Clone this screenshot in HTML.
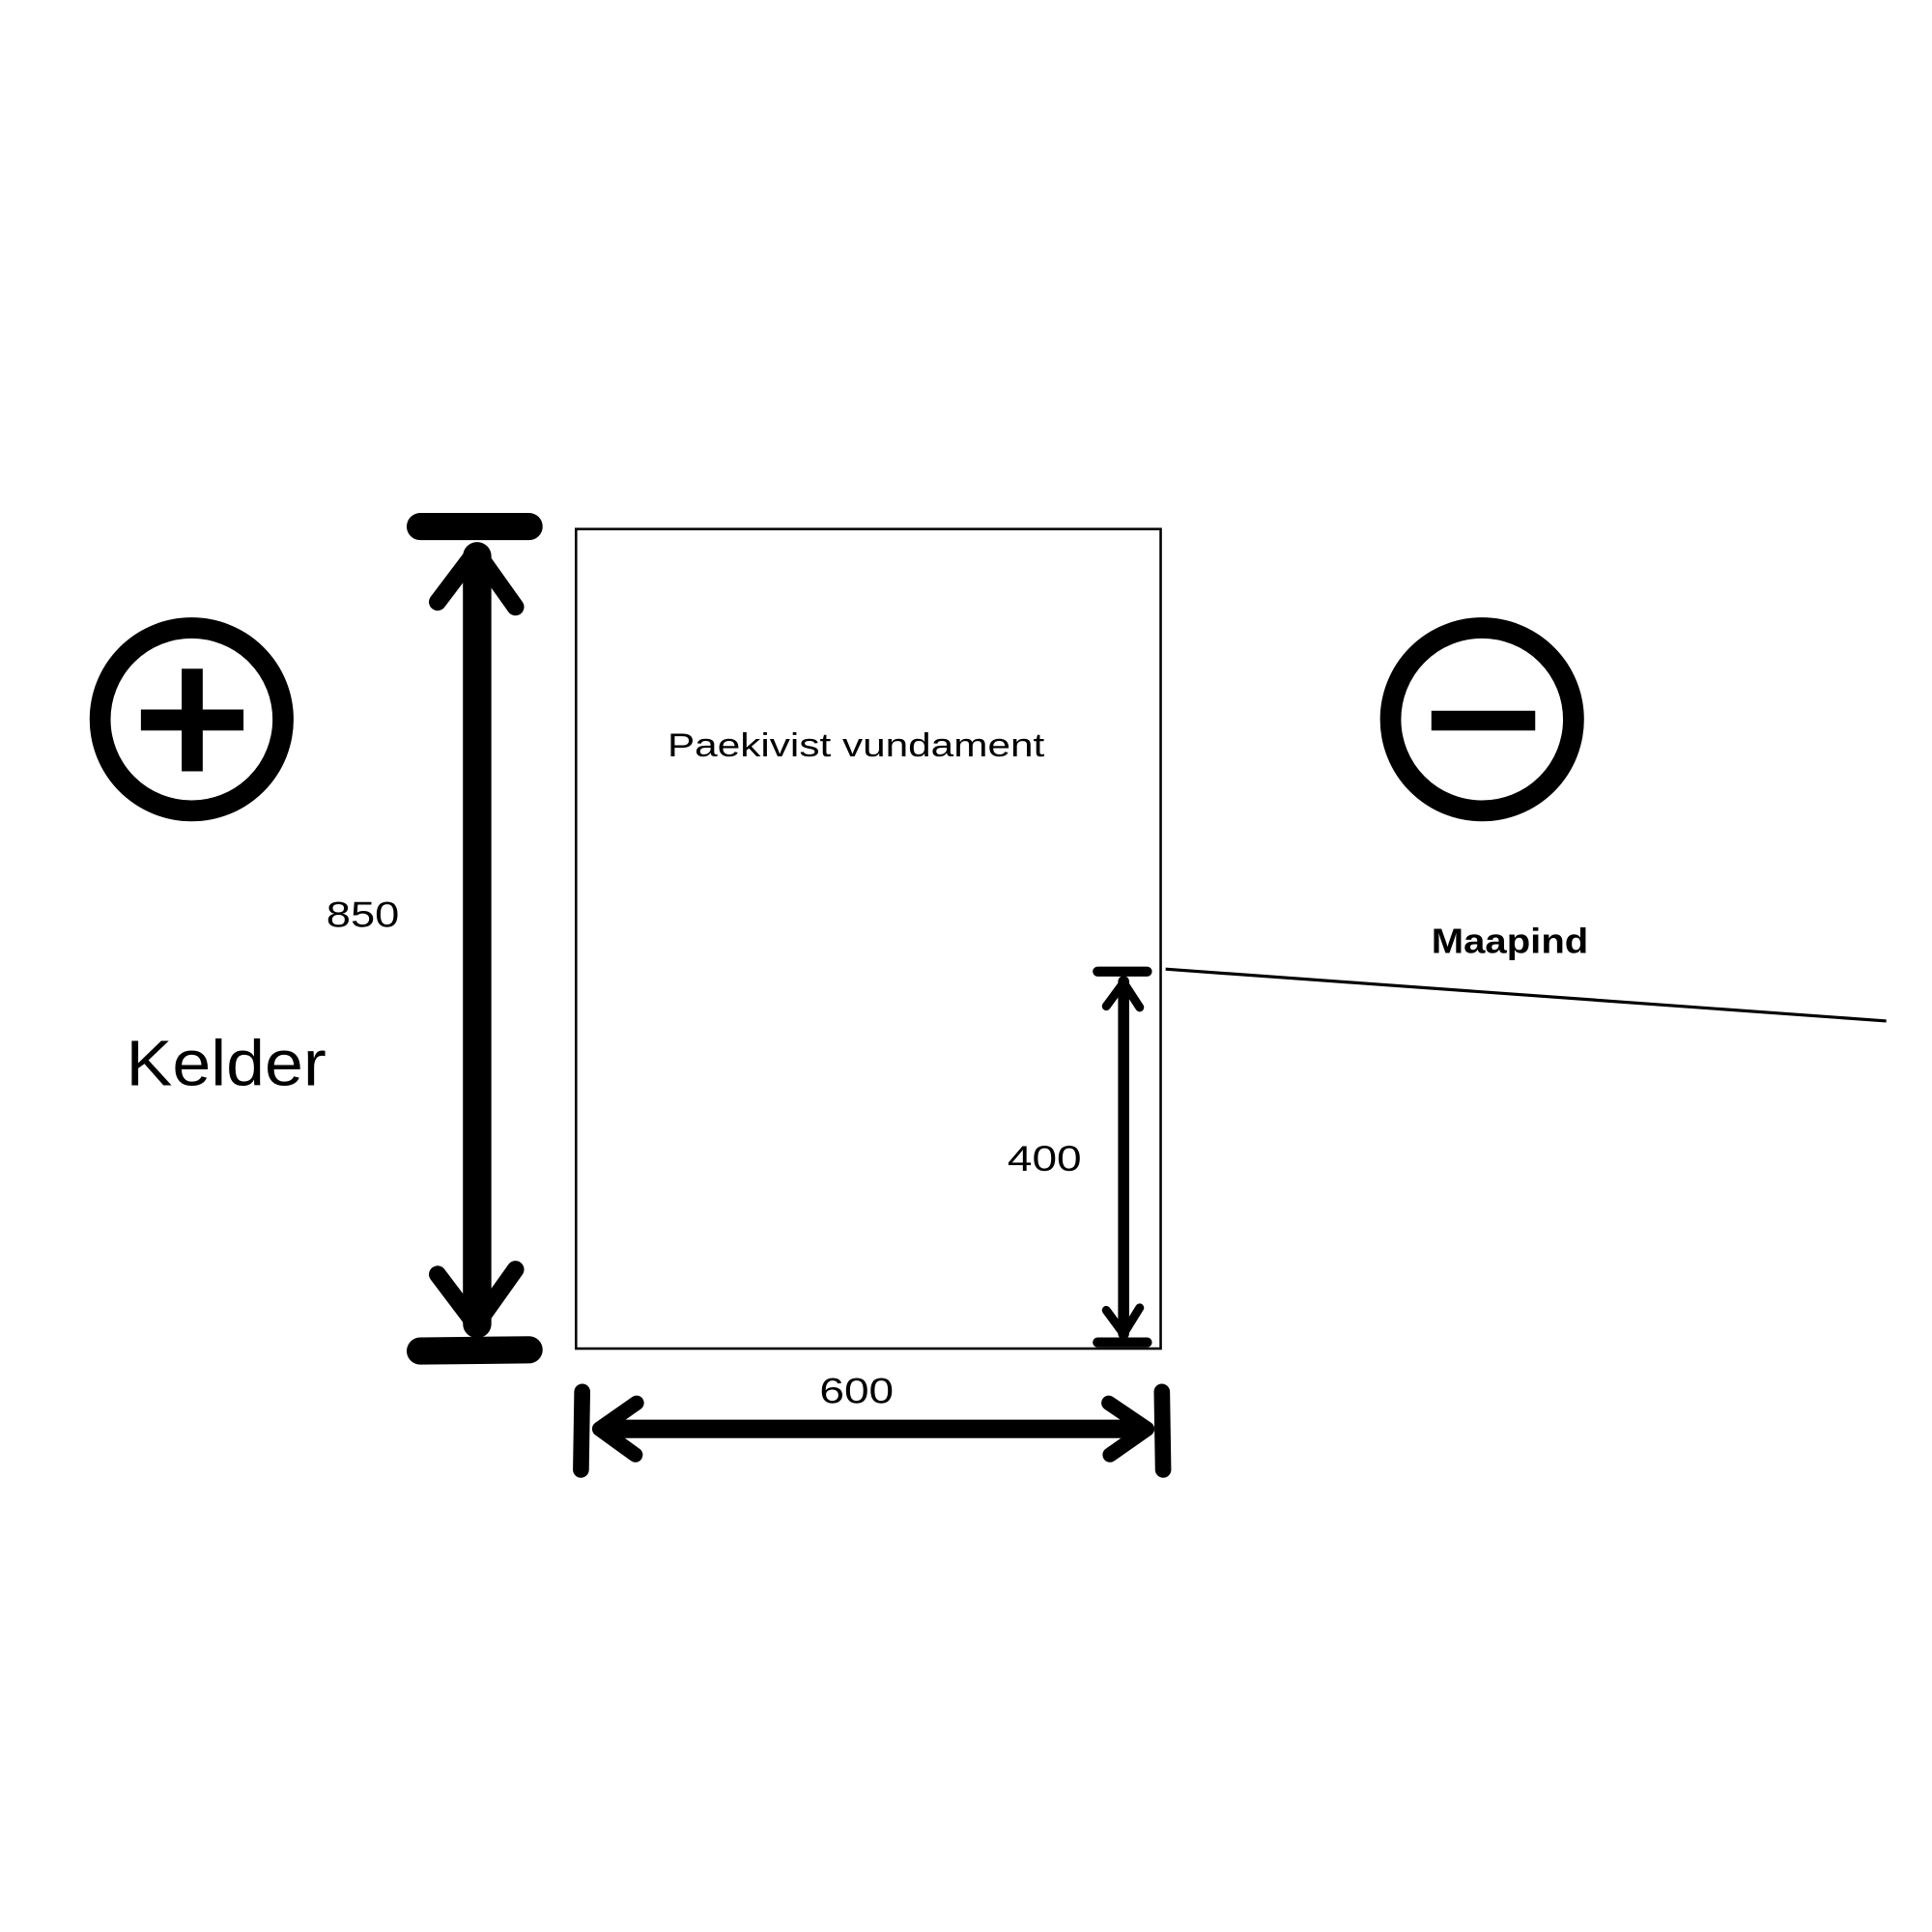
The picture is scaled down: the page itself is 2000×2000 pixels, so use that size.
<!DOCTYPE html>
<html><head><meta charset="utf-8"><style>
html,body{margin:0;padding:0;background:#fff}
svg{display:block}
text{font-family:"Liberation Sans",sans-serif;fill:#000}
</style></head><body>
<svg width="2000" height="2000" viewBox="0 0 1563 1563" xmlns="http://www.w3.org/2000/svg">
<rect width="1563" height="1563" fill="#fff"/>
<rect x="466" y="428" width="473" height="663" fill="none" stroke="#000" stroke-width="2"/>
<g stroke="#000" stroke-linecap="round" fill="none">
<line x1="340" y1="426" x2="428" y2="426" stroke-width="22"/>
<line x1="340" y1="1093" x2="428" y2="1092" stroke-width="22"/>
<line x1="386" y1="450" x2="386" y2="1071" stroke-width="23"/>
<path d="M354 487 L385 446 L417 491" stroke-width="14" stroke-linejoin="round"/>
<path d="M354 1031 L385 1072 L417 1027" stroke-width="14" stroke-linejoin="round"/>
<line x1="888" y1="786" x2="928" y2="786" stroke-width="8"/>
<line x1="888" y1="1086" x2="928" y2="1086" stroke-width="8"/>
<line x1="909" y1="794" x2="909" y2="1079" stroke-width="9"/>
<path d="M895 814 L909 795 L922 815" stroke-width="7" stroke-linejoin="round"/>
<path d="M895 1060 L909 1079 L922 1058" stroke-width="7" stroke-linejoin="round"/>
<line x1="471" y1="1126" x2="470" y2="1189" stroke-width="13"/>
<line x1="940" y1="1126" x2="941" y2="1189" stroke-width="13"/>
<line x1="489" y1="1156" x2="924" y2="1156" stroke-width="15"/>
<path d="M515 1135 L485 1156 L514 1177" stroke-width="12" stroke-linejoin="round"/>
<path d="M897 1135 L928 1156 L898 1177" stroke-width="12" stroke-linejoin="round"/>
<circle cx="155" cy="582" r="74" stroke-width="17"/>
<circle cx="1199" cy="582" r="74" stroke-width="17"/>
<line x1="943" y1="784" x2="1526" y2="826" stroke-width="2.5" stroke-linecap="butt"/>
</g>
<rect x="114" y="574" width="83" height="17" fill="#000"/>
<rect x="147" y="541" width="17" height="83" fill="#000"/>
<rect x="1158" y="575" width="84" height="16" fill="#000"/>
<text x="540" y="612" font-size="27" textLength="305" lengthAdjust="spacingAndGlyphs">Paekivist vundament</text>
<text x="264" y="750" font-size="29" textLength="59" lengthAdjust="spacingAndGlyphs">850</text>
<text x="102" y="878" font-size="52" textLength="162" lengthAdjust="spacingAndGlyphs">Kelder</text>
<text x="1158" y="771" font-size="28" font-weight="bold" textLength="127" lengthAdjust="spacingAndGlyphs">Maapind</text>
<text x="815" y="947" font-size="29" textLength="60" lengthAdjust="spacingAndGlyphs">400</text>
<text x="663" y="1135" font-size="29" textLength="60" lengthAdjust="spacingAndGlyphs">600</text>
</svg>
</body></html>
